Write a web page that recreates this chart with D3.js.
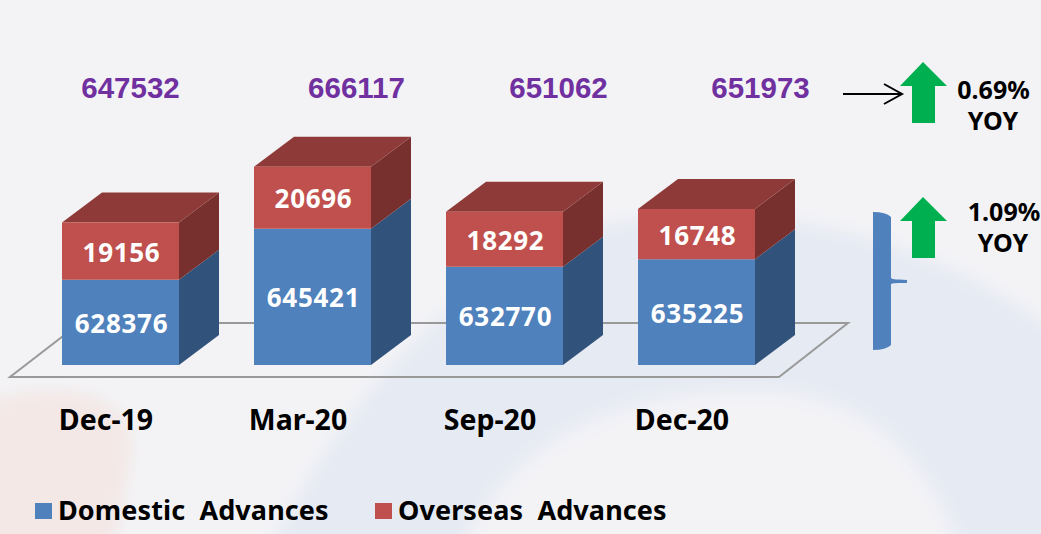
<!DOCTYPE html>
<html><head><meta charset="utf-8">
<script src="https://cdn.jsdelivr.net/npm/d3@7/dist/d3.min.js"></script>
<style>html,body{margin:0;padding:0;background:#f3f3f6;overflow:hidden}svg{display:block}</style>
</head><body><div id="c"></div>
<script>
const categories = ["Dec-19","Mar-20","Sep-20","Dec-20"];
const domestic = [628376,645421,632770,635225];
const overseas = [19156,20696,18292,16748];
const totals = [647532,666117,651062,651973];
const totalOffsets = [10,44,54,64];
const seriesNames = ["Domestic  Advances","Overseas  Advances"];
const yoy = ["0.69%","1.09%"];

const W=1041,H=534;
const svg=d3.select("#c").append("svg").attr("width",W).attr("height",H);
const defs=svg.append("defs");
defs.append("filter").attr("id","b").attr("x","-20%").attr("y","-20%").attr("width","140%").attr("height","140%")
 .append("feGaussianBlur").attr("stdDeviation",8);
svg.append("rect").attr("width",W).attr("height",H).attr("fill","#f3f3f6");
const bg=svg.append("g").attr("filter","url(#b)");
bg.append("path").attr("d","M-30,560 L-30,410 Q30,380 90,395 Q135,410 132,450 Q125,500 110,560 Z").attr("fill","#f3e8e6");
bg.append("path").attr("d","M260,570 C330,420 450,260 620,222 C760,195 950,240 1070,345 L1070,570 Z").attr("fill","#e6eaf3");
bg.append("path").attr("d","M450,570 C500,440 620,390 750,390 C860,390 935,450 965,570 Z").attr("fill","#f3f3f6");

const x=d3.scaleBand().domain(categories).range([62,755]).paddingInner(75/192).paddingOuter(0);
const y=d3.scaleLinear().domain([600000,700000]).range([365,65]);
const dx=40,dy=-30;
const c={blue:"#4f81bd",blueSide:"#31527a",red:"#c0504d",redSide:"#78302e",redTop:"#8e3a38"};

// floor
svg.append("path").attr("d","M10,377 L779,377 L848,323 L80,323 Z").attr("fill","none").attr("stroke","#999").attr("stroke-width",2);

const rows=categories.map((k,i)=>({k,d:domestic[i],o:overseas[i],t:domestic[i]+overseas[i]}));
const poly=(pts,f)=>({pts,f});
const g=svg.append("g");
const bars=g.selectAll("g").data(rows).join("g");
bars.each(function(r){
  const s=d3.select(this),l=x(r.k),rr=l+x.bandwidth(),b=y(600000),m=y(r.d),t=y(r.t);
  const shapes=[
   poly([[rr,b],[rr+dx,b+dy],[rr+dx,m+dy],[rr,m]],c.blueSide),
   poly([[rr,m],[rr+dx,m+dy],[rr+dx,t+dy],[rr,t]],c.redSide),
   poly([[l,t],[rr,t],[rr+dx,t+dy],[l+dx,t+dy]],c.redTop),
   poly([[l,b],[rr,b],[rr,m],[l,m]],c.blue),
   poly([[l,m],[rr,m],[rr,t],[l,t]],c.red)];
  s.selectAll("polygon").data(shapes).join("polygon").attr("points",d=>d.pts.join(" ")).attr("fill",d=>d.f);
  const cx=l+x.bandwidth()/2+1;
  const lab=(v,yy)=>s.append("text").attr("x",cx).attr("y",yy).attr("text-anchor","middle").attr("dominant-baseline","central")
    .attr("fill","#fff").attr("font-family","'Noto Sans'").attr("font-weight",700).attr("font-size",26).attr("letter-spacing",0.7).text(v);
  lab(r.d,(b+m)/2+0.5);
  lab(r.o,(m+t)/2+0.5);
});

// totals
svg.selectAll("text.tot").data(totals).join("text").attr("class","tot")
 .attr("x",(d,i)=>x(categories[i])+x.bandwidth()/2+totalOffsets[i]).attr("y",98)
 .attr("text-anchor","middle").attr("fill","#7030a0").attr("font-family","'Liberation Sans'").attr("font-weight",700).attr("font-size",29.5).text(d=>d);

// category axis
const axis=svg.append("g").attr("transform","translate(-14.5,430)").call(d3.axisBottom(x).tickSize(0).tickPadding(0));
axis.select(".domain").remove();
axis.selectAll("text").attr("dy",0).attr("fill","#000").attr("font-family","'Noto Sans'").attr("font-weight",700).attr("font-size",28.5);
axis.attr("font-family",null).attr("font-size",null);

// legend
const lx=[35,375];
seriesNames.forEach((n,i)=>{
  svg.append("rect").attr("x",lx[i]).attr("y",503).attr("width",17).attr("height",16).attr("fill",[c.blue,c.red][i]);
  svg.append("text").attr("x",lx[i]+23).attr("y",520).attr("fill","#000").attr("font-family","'Noto Sans'").attr("font-weight",700).attr("font-size",27).attr("letter-spacing",0.1).style("white-space","pre").text(n);
});

// arrows
[62,197].forEach(t=>{
  svg.append("path").attr("d",`M923,${t} L947,${t+24} L935,${t+24} L935,${t+61} L912,${t+61} L912,${t+24} L900,${t+24} Z`).attr("fill","#00b050");
});
svg.append("path").attr("d","M843,94 L901,94 M884,84 L902,94 L884,104").attr("fill","none").attr("stroke","#000").attr("stroke-width",2);
// brace
svg.append("path").attr("d","M873,212 Q886,212 891,217 L891,278 Q893,279.5 899,279.5 L907,280 L907,283 L899,283 Q893,283 891,284 L891,345 Q886,350 873,350 Z").attr("fill","#4f81bd");

// yoy
const yt=(s,xx,yy)=>svg.append("text").attr("x",xx).attr("y",yy).attr("text-anchor","middle").attr("fill","#000").attr("font-family","'Noto Sans'").attr("font-weight",700).attr("font-size",25).text(s);
yt(yoy[0],993.5,99);yt("YOY",993,130);
yt(yoy[1],1004,221);yt("YOY",1003,252);
</script></body></html>
